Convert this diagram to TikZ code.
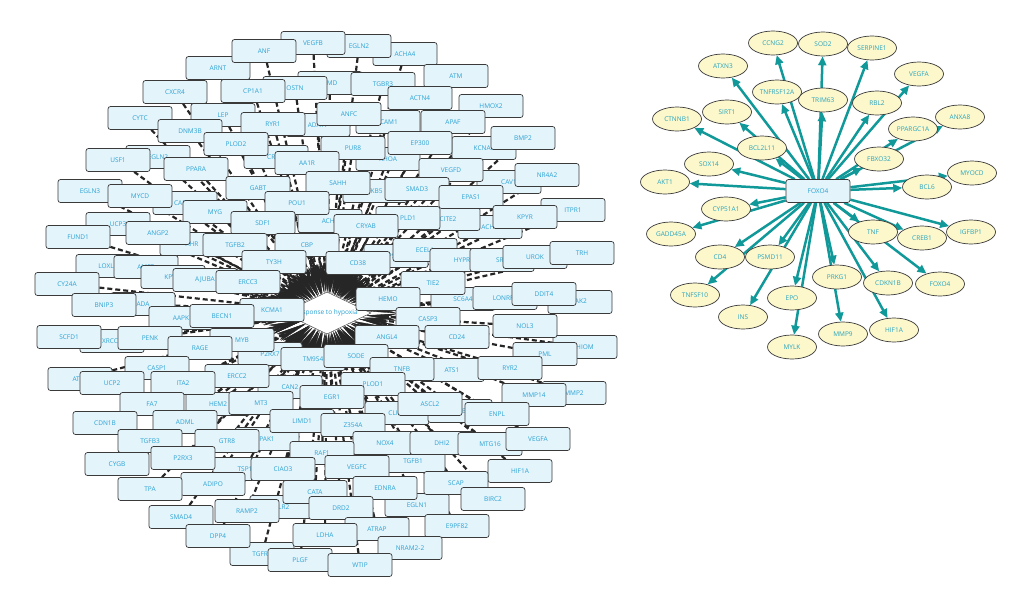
\documentclass[tikz,border=0pt]{standalone}
\usepackage{fontspec}
\setmainfont{Open Sans}
\usetikzlibrary{shapes.geometric,arrows.meta,backgrounds}
\definecolor{boxfill}{HTML}{E4F4FB}
\definecolor{boxdraw}{HTML}{3A3A3A}
\definecolor{boxtext}{HTML}{2AA2D4}
\definecolor{ellfill}{HTML}{FCF8CC}
\definecolor{elltext}{HTML}{26A3BE}
\definecolor{tealc}{HTML}{11999A}
\definecolor{edgedark}{HTML}{262626}
\newcommand\bxn[4]{\node[bx] (#1) at (#2,#3) {#4};}
\newcommand\eln[4]{\node[el] (#1) at (#2,#3) {#4};}
\begin{document}
\begin{tikzpicture}[x=1pt,y=-1pt,
  bx/.style={draw=boxdraw, line width=0.7pt, fill=boxfill, rounded corners=2.5pt, minimum width=64pt, minimum height=23pt, inner sep=0pt, text=boxtext, font=\fontsize{6.5}{7}\selectfont},
  el/.style={ellipse, draw=boxdraw, line width=0.7pt, fill=ellfill, minimum width=49pt, minimum height=24pt, inner sep=0pt, text=elltext, font=\fontsize{6.5}{7}\selectfont},
  hy/.style={draw=edgedark, line width=2.2pt, dash pattern=on 5pt off 3pt, -{Stealth[length=30pt,width=7pt,fill=edgedark,line width=0.3pt]}},
  fx/.style={draw=tealc, line width=2.5pt, -{Triangle[length=9pt,width=8pt]}}]
\useasboundingbox (0,0) rectangle (1024,605);
% central diamond
\node[diamond, draw=boxdraw, fill=white, line width=0.4pt, minimum width=88pt, minimum height=42pt, inner sep=0pt] (hyp) at (327,313) {};
\node[text=boxtext, font=\fontsize{6.5}{7}\selectfont] (hyt) at (327,313) {response to hypoxia};
% back nodes
\bxn{amd}{330}{83}{AMD}
\bxn{ostn}{295}{88}{OSTN}
\bxn{ada17}{318}{125}{ADA17}
\bxn{icam}{388}{122}{ICAM1}
\bxn{crym}{276}{157}{CRYM}
\bxn{rhoa}{388}{159}{RHOA}
\bxn{fkb5}{375}{191}{FKB5}
\bxn{kcna}{484}{148}{KCNA5}
\bxn{cav}{509}{182}{CAV1}
\bxn{carm}{185}{203}{CARM1}
\bxn{ucp3}{118}{224}{UCP3}
\bxn{ahr}{192}{244}{AHR}
\bxn{loxl}{108}{266}{LOXL2}
\bxn{amfr}{146}{267}{AMFR}
\bxn{kpym}{173}{277}{KPYM}
\bxn{ada}{143}{304}{ADA}
\bxn{xrcc}{112}{341}{XRCC1}
\bxn{at1r}{80}{379}{AT1R}
\bxn{ache}{330}{221}{ACHE}
\bxn{psn2}{396}{256}{PSN2}
\bxn{p2rx}{270}{354}{P2RX7}
\bxn{tm95}{313}{359}{TM9S4}
\bxn{can2}{290}{387}{CAN2}
\bxn{achb}{490}{227}{ACHB}
\bxn{ecel}{425}{250}{ECEL1}
\bxn{hypr}{462}{260}{HYPR}
\bxn{src}{502}{260}{SRC}
\bxn{sc6a}{463}{299}{SC6A4}
\bxn{lonr}{505}{298}{LONRF1}
\bxn{jak2}{580}{302}{JAK2}
\bxn{hiom}{585}{347}{HIOM}
\bxn{ats1}{452}{370}{ATS1}
\bxn{clic}{397}{413}{CLIC4}
\bxn{ace}{460}{411}{ACE}
\bxn{tlr2}{282}{507}{TLR2}
\bxn{tgfr}{262}{554}{TGFR2}
\bxn{mmp2}{574}{393}{MMP2}
\bxn{egln1}{417}{505}{EGLN1}
\bxn{tgfb1}{413}{461}{TGFB1}
\bxn{hem2}{218}{404}{HEM2}
\bxn{tsp}{245}{469}{TSP1}
\bxn{pak1}{267}{439}{PAK1}
\bxn{eglnx}{158}{157}{EGLN2}
\bxn{cite2}{448}{219}{CITE2}
\bxn{pld1}{408}{218}{PLD1}
% front nodes
\bxn{arnt}{218}{68}{ARNT}
\bxn{cxcr4}{175}{92}{CXCR4}
\bxn{lep}{223}{115}{LEP}
\bxn{cytc}{140}{118}{CYTC}
\bxn{dnm3b}{190}{131}{DNM3B}
\bxn{usf1}{118}{160}{USF1}
\bxn{ppara}{196}{169}{PPARA}
\bxn{egln3}{90}{191}{EGLN3}
\bxn{mycd}{140}{196}{MYCD}
\bxn{acha4}{405}{54}{ACHA4}
\bxn{egln2}{359}{46}{EGLN2}
\bxn{vegfb}{313}{43}{VEGFB}
\bxn{anf}{264}{51}{ANF}
\bxn{cp1a1}{253}{91}{CP1A1}
\bxn{tgbr3}{383}{84}{TGBR3}
\bxn{atm}{456}{76}{ATM}
\bxn{actn4}{420}{98}{ACTN4}
\bxn{hmox2}{491}{106}{HMOX2}
\bxn{apaf}{453}{122}{APAF}
\bxn{ryr1}{273}{124}{RYR1}
\bxn{anfc}{349}{114}{ANFC}
\bxn{plod2}{236}{144}{PLOD2}
\bxn{pur8}{353}{148}{PUR8}
\bxn{ep300}{420}{143}{EP300}
\bxn{bmp2}{523}{138}{BMP2}
\bxn{aa1r}{307}{163}{AA1R}
\bxn{vegfd}{451}{170}{VEGFD}
\bxn{nr4a2}{547}{175}{NR4A2}
\bxn{sahh}{338}{183}{SAHH}
\bxn{gabt}{258}{188}{GABT}
\bxn{smad3}{417}{189}{SMAD3}
\bxn{epas1}{471}{197}{EPAS1}
\bxn{pou1}{297}{203}{POU1}
\bxn{myg}{215}{212}{MYG}
\bxn{itpr1}{573}{210}{ITPR1}
\bxn{kpyr}{525}{217}{KPYR}
\bxn{sdf1}{263}{223}{SDF1}
\bxn{cryab}{366}{226}{CRYAB}
\bxn{angp2}{158}{233}{ANGP2}
\bxn{fund1}{78}{237}{FUND1}
\bxn{tgfb2}{235}{245}{TGFB2}
\bxn{cbp}{307}{245}{CBP}
\bxn{urok}{535}{257}{UROK}
\bxn{trh}{582}{253}{TRH}
\bxn{ty3h}{274}{262}{TY3H}
\bxn{cd38}{358}{263}{CD38}
\bxn{ajuba}{205}{280}{AJUBA}
\bxn{ercc3}{248}{282}{ERCC3}
\bxn{cy24a}{67}{284}{CY24A}
\bxn{tie2}{433}{283}{TIE2}
\bxn{ddit4}{544}{294}{DDIT4}
\bxn{hemo}{388}{299}{HEMO}
\bxn{bnip3}{104}{305}{BNIP3}
\bxn{kcma1}{272}{310}{KCMA1}
\bxn{aapk}{181}{318}{AAPK}
\bxn{becn1}{222}{316}{BECN1}
\bxn{casp3}{428}{319}{CASP3}
\bxn{nol3}{525}{326}{NOL3}
\bxn{scfd1}{69}{337}{SCFD1}
\bxn{penk}{150}{338}{PENK}
\bxn{myb}{242}{340}{MYB}
\bxn{angl4}{387}{337}{ANGL4}
\bxn{cd24}{457}{337}{CD24}
\bxn{rage}{200}{348}{RAGE}
\bxn{pml}{545}{354}{PML}
\bxn{sode}{356}{356}{SODE}
\bxn{casp1}{157}{368}{CASP1}
\bxn{tnfb}{402}{369}{TNFB}
\bxn{ryr2}{510}{368}{RYR2}
\bxn{ercc2}{237}{376}{ERCC2}
\bxn{ucp2}{112}{383}{UCP2}
\bxn{ita2}{183}{383}{ITA2}
\bxn{plod1}{373}{384}{PLOD1}
\bxn{mmp14}{534}{395}{MMP14}
\bxn{egr1}{332}{397}{EGR1}
\bxn{fa7}{152}{404}{FA7}
\bxn{mt3}{261}{403}{MT3}
\bxn{ascl2}{430}{404}{ASCL2}
\bxn{enpl}{497}{414}{ENPL}
\bxn{cdn1b}{105}{423}{CDN1B}
\bxn{adml}{185}{422}{ADML}
\bxn{limd1}{302}{421}{LIMD1}
\bxn{z354a}{353}{425}{Z354A}
\bxn{tgfb3}{150}{441}{TGFB3}
\bxn{gtr8}{227}{441}{GTR8}
\bxn{nox4}{385}{443}{NOX4}
\bxn{dhi2}{442}{443}{DHI2}
\bxn{mtg16}{490}{444}{MTG16}
\bxn{vegfa}{538}{439}{VEGFA}
\bxn{raf1}{322}{453}{RAF1}
\bxn{p2rx3}{183}{458}{P2RX3}
\bxn{cygb}{117}{464}{CYGB}
\bxn{ciao3}{283}{469}{CIAO3}
\bxn{vegfc}{357}{467}{VEGFC}
\bxn{hif1a}{520}{471}{HIF1A}
\bxn{adipo}{213}{484}{ADIPO}
\bxn{tpa}{150}{489}{TPA}
\bxn{scap}{456}{483}{SCAP}
\bxn{ednra}{385}{488}{EDNRA}
\bxn{cata}{315}{492}{CATA}
\bxn{birc2}{493}{499}{BIRC2}
\bxn{drd2}{341}{508}{DRD2}
\bxn{ramp2}{247}{511}{RAMP2}
\bxn{smad4}{181}{517}{SMAD4}
\bxn{e9pf82}{457}{526}{E9PF82}
\bxn{atrap}{377}{529}{ATRAP}
\bxn{ldha}{325}{535}{LDHA}
\bxn{dpp4}{218}{536}{DPP4}
\bxn{nram}{410}{548}{NRAM2-2}
\bxn{plgf}{300}{560}{PLGF}
\bxn{wtip}{360}{565}{WTIP}
% right star
\bxn{fox}{818}{191}{FOXO4}
\eln{ccng2}{773}{43}{CCNG2}
\eln{sod2}{823}{44}{SOD2}
\eln{serpine1}{872}{48}{SERPINE1}
\eln{atxn3}{723}{66}{ATXN3}
\eln{vegfaR}{919}{74}{VEGFA}
\eln{tnfrsf}{777}{92}{TNFRSF12A}
\eln{trim63}{823}{100}{TRIM63}
\eln{rbl2}{877}{103}{RBL2}
\eln{sirt1}{727}{112}{SIRT1}
\eln{ctnnb1}{677}{119}{CTNNB1}
\eln{anxa8}{960}{117}{ANXA8}
\eln{ppargc}{913}{129}{PPARGC1A}
\eln{bcl2l11}{762}{148}{BCL2L11}
\eln{fbxo32}{879}{159}{FBXO32}
\eln{sox14}{709}{164}{SOX14}
\eln{myocd}{972}{173}{MYOCD}
\eln{akt1}{665}{182}{AKT1}
\eln{bcl6}{927}{187}{BCL6}
\eln{cyp51}{726}{209}{CYP51A1}
\eln{gadd}{671}{234}{GADD45A}
\eln{tnf}{873}{232}{TNF}
\eln{creb1}{922}{238}{CREB1}
\eln{igfbp1}{971}{232}{IGFBP1}
\eln{cd4}{720}{257}{CD4}
\eln{psmd}{770}{257}{PSMD11}
\eln{prkg1}{837}{277}{PRKG1}
\eln{cdkn1b}{888}{283}{CDKN1B}
\eln{foxo4b}{940}{284}{FOXO4}
\eln{tnfsf10}{695}{295}{TNFSF10}
\eln{epo}{792}{298}{EPO}
\eln{ins}{743}{317}{INS}
\eln{mmp9}{843}{334}{MMP9}
\eln{hif1aR}{894}{330}{HIF1A}
\eln{mylk}{792}{347}{MYLK}
\begin{scope}[on background layer]
\foreach \n in {amd,ostn,ada17,icam,crym,rhoa,fkb5,kcna,cav,carm,ucp3,ahr,loxl,amfr,kpym,ada,xrcc,at1r,ache,psn2,p2rx,tm95,can2,achb,ecel,hypr,src,sc6a,lonr,jak2,hiom,ats1,clic,ace,tlr2,tgfr,mmp2,egln1,tgfb1,hem2,tsp,pak1,eglnx,cite2,pld1,arnt,cxcr4,lep,cytc,dnm3b,usf1,ppara,egln3,mycd,acha4,egln2,vegfb,anf,cp1a1,tgbr3,atm,actn4,hmox2,apaf,ryr1,anfc,plod2,pur8,ep300,bmp2,aa1r,vegfd,nr4a2,sahh,gabt,smad3,epas1,pou1,myg,itpr1,kpyr,sdf1,cryab,angp2,fund1,tgfb2,cbp,urok,trh,ty3h,cd38,ajuba,ercc3,cy24a,tie2,ddit4,hemo,bnip3,kcma1,aapk,becn1,casp3,nol3,scfd1,penk,myb,angl4,cd24,rage,pml,sode,casp1,tnfb,ryr2,ercc2,ucp2,ita2,plod1,mmp14,egr1,fa7,mt3,ascl2,enpl,cdn1b,adml,limd1,z354a,tgfb3,gtr8,nox4,dhi2,mtg16,vegfa,raf1,p2rx3,cygb,ciao3,vegfc,hif1a,adipo,tpa,scap,ednra,cata,birc2,drd2,ramp2,smad4,e9pf82,atrap,ldha,dpp4,nram,plgf,wtip}
  \draw[hy] (\n) -- (hyp);
\foreach \n in {ccng2,sod2,serpine1,atxn3,vegfaR,tnfrsf,trim63,rbl2,sirt1,ctnnb1,anxa8,ppargc,bcl2l11,fbxo32,sox14,myocd,akt1,bcl6,cyp51,gadd,tnf,creb1,igfbp1,cd4,psmd,prkg1,cdkn1b,foxo4b,tnfsf10,epo,ins,mmp9,hif1aR,mylk}
  \draw[fx] (fox) -- (\n);
\end{scope}
\end{tikzpicture}
\end{document}
